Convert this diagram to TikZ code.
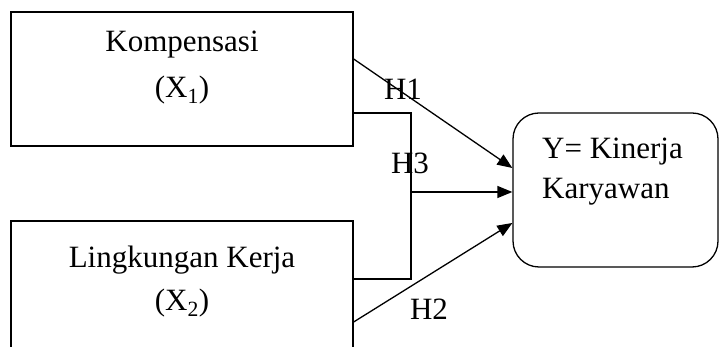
\documentclass[tikz,border=0pt]{standalone}
\usepackage{fontspec}
\setmainfont{Liberation Serif}
\usetikzlibrary{arrows.meta,positioning}
\begin{document}
\begin{tikzpicture}[x=1pt,y=1pt,
  box/.style={draw,line width=1.3pt,minimum width=342pt,inner sep=0pt},
  lbl/.style={font=\fontsize{31}{36}\selectfont,inner sep=0pt},
  conn/.style={line width=1.3pt},
  arr/.style={conn,-{Triangle[length=15pt,width=12pt]}}]
\useasboundingbox (0,0) rectangle (719,347);
\clip (0,0) rectangle (719,347);
\node[box,minimum height=134pt] (box1) at (182,268) {};
\node[box,minimum height=146pt] (box2) at (182,53) {};
\node[draw,line width=1.3pt,rounded corners=26pt,minimum width=205pt,minimum height=154pt,inner sep=0pt] (ybox) at (615.5,157) {};
\node[lbl] (t1) at (182,302) {Kompensasi};
\node[lbl] (t1b) at (182,257) {(X\textsubscript{1})};
\node[lbl] (t2) at (182,87) {Lingkungan Kerja};
\node[lbl] (t2b) at (182,44) {(X\textsubscript{2})};
\node[lbl,anchor=west] (ty1) at (542,195) {Y= Kinerja};
\node[lbl,anchor=west] (ty2) at (542,155) {Karyawan};
\coordinate (h3x) at (411,0);
\draw[arr] ([yshift=20pt]box1.east) -- ([yshift=22pt]ybox.west);
\draw[conn] ([yshift=-34pt]box1.east) -| ([yshift=15pt]box2.east -| h3x) -- ([yshift=15pt]box2.east);
\draw[arr] ([yshift=-2pt]ybox.west -| h3x) -- ([yshift=-2pt]ybox.west);
\draw[arr] ([yshift=-28pt]box2.east) -- ([yshift=-33pt]ybox.west);
\node[lbl] (h1) at (403,258) {H1};
\node[lbl] (h3) at (410,184) {H3};
\node[lbl] (h2) at (429,38) {H2};
\end{tikzpicture}
\end{document}
